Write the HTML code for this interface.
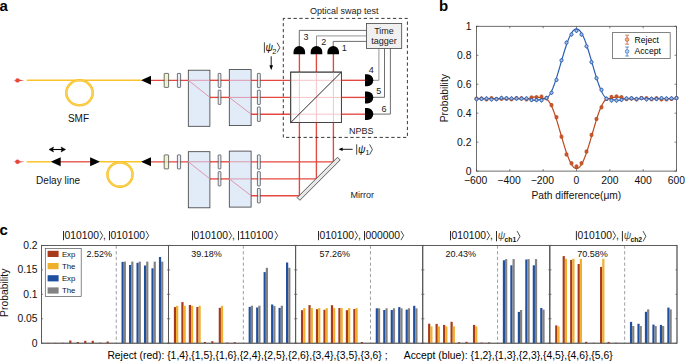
<!DOCTYPE html>
<html><head><meta charset="utf-8"><style>
html,body{margin:0;padding:0;background:#fff;}
body{width:685px;height:361px;overflow:hidden;}
svg{display:block;font-family:"Liberation Sans", sans-serif;}
</style></head><body>
<svg width="685" height="361" viewBox="0 0 685 361">
<text x="-0.60" y="10.70" font-size="15" text-anchor="start" font-weight="bold" fill="#000" >a</text>
<line x1="151.00" y1="80.30" x2="188.30" y2="80.30" stroke="#e5483f" stroke-width="1.35"/>
<line x1="209.90" y1="80.30" x2="229.30" y2="80.30" stroke="#e5483f" stroke-width="1.35"/>
<line x1="251.10" y1="80.30" x2="290.50" y2="80.30" stroke="#e5483f" stroke-width="1.35"/>
<line x1="209.90" y1="97.40" x2="229.30" y2="97.40" stroke="#e5483f" stroke-width="1.35"/>
<line x1="251.10" y1="97.40" x2="290.50" y2="97.40" stroke="#e5483f" stroke-width="1.35"/>
<line x1="251.10" y1="114.20" x2="290.50" y2="114.20" stroke="#e5483f" stroke-width="1.35"/>
<rect x="164.20" y="73.40" width="4.40" height="14.00" rx="0.5" fill="#e8f2c4" fill-opacity="0.78" stroke="#3a3a3a" stroke-width="0.7"/>
<rect x="177.40" y="73.40" width="3.20" height="14.00" rx="0.5" fill="#e2ecf8" fill-opacity="0.78" stroke="#3a3a3a" stroke-width="0.7"/>
<rect x="218.20" y="73.40" width="2.70" height="14.00" rx="0.5" fill="#e2ecf8" fill-opacity="0.78" stroke="#3a3a3a" stroke-width="0.7"/>
<rect x="218.20" y="90.20" width="2.70" height="14.20" rx="0.5" fill="#e2ecf8" fill-opacity="0.78" stroke="#3a3a3a" stroke-width="0.7"/>
<rect x="257.40" y="73.40" width="2.90" height="14.20" rx="0.5" fill="#e2ecf8" fill-opacity="0.78" stroke="#3a3a3a" stroke-width="0.7"/>
<rect x="257.40" y="90.20" width="2.90" height="14.20" rx="0.5" fill="#e2ecf8" fill-opacity="0.78" stroke="#3a3a3a" stroke-width="0.7"/>
<rect x="257.40" y="107.00" width="2.90" height="14.40" rx="0.5" fill="#e2ecf8" fill-opacity="0.78" stroke="#3a3a3a" stroke-width="0.7"/>
<rect x="188.3" y="70.20" width="21.6" height="56.1" fill="#e2ecf8" stroke="#3a3a3a" stroke-width="0.8"/>
<rect x="229.3" y="69.60" width="21.8" height="56.0" fill="#e2ecf8" stroke="#3a3a3a" stroke-width="0.8"/>
<line x1="188.30" y1="80.30" x2="209.90" y2="80.30" stroke="#dc98ae" stroke-width="1.0"/>
<line x1="229.30" y1="80.30" x2="251.10" y2="80.30" stroke="#dc98ae" stroke-width="1.0"/>
<line x1="229.30" y1="97.40" x2="251.10" y2="97.40" stroke="#dc98ae" stroke-width="1.0"/>
<line x1="188.3" y1="80.30" x2="209.9" y2="97.40" stroke="#dc98ae" stroke-width="1.0"/>
<line x1="229.3" y1="97.40" x2="251.1" y2="114.20" stroke="#dc98ae" stroke-width="1.0"/>
<line x1="151.00" y1="161.80" x2="188.30" y2="161.80" stroke="#e5483f" stroke-width="1.35"/>
<line x1="209.90" y1="161.80" x2="229.30" y2="161.80" stroke="#e5483f" stroke-width="1.35"/>
<line x1="251.10" y1="161.80" x2="333.40" y2="161.80" stroke="#e5483f" stroke-width="1.35"/>
<line x1="209.90" y1="178.90" x2="229.30" y2="178.90" stroke="#e5483f" stroke-width="1.35"/>
<line x1="251.10" y1="178.90" x2="316.40" y2="178.90" stroke="#e5483f" stroke-width="1.35"/>
<line x1="251.10" y1="195.70" x2="299.40" y2="195.70" stroke="#e5483f" stroke-width="1.35"/>
<rect x="164.20" y="154.90" width="4.40" height="14.00" rx="0.5" fill="#e8f2c4" fill-opacity="0.78" stroke="#3a3a3a" stroke-width="0.7"/>
<rect x="177.40" y="154.90" width="3.20" height="14.00" rx="0.5" fill="#e2ecf8" fill-opacity="0.78" stroke="#3a3a3a" stroke-width="0.7"/>
<rect x="218.20" y="154.90" width="2.70" height="14.00" rx="0.5" fill="#e2ecf8" fill-opacity="0.78" stroke="#3a3a3a" stroke-width="0.7"/>
<rect x="218.20" y="171.70" width="2.70" height="14.20" rx="0.5" fill="#e2ecf8" fill-opacity="0.78" stroke="#3a3a3a" stroke-width="0.7"/>
<rect x="257.40" y="154.90" width="2.90" height="14.20" rx="0.5" fill="#e2ecf8" fill-opacity="0.78" stroke="#3a3a3a" stroke-width="0.7"/>
<rect x="257.40" y="171.70" width="2.90" height="14.20" rx="0.5" fill="#e2ecf8" fill-opacity="0.78" stroke="#3a3a3a" stroke-width="0.7"/>
<rect x="257.40" y="188.50" width="2.90" height="14.40" rx="0.5" fill="#e2ecf8" fill-opacity="0.78" stroke="#3a3a3a" stroke-width="0.7"/>
<rect x="188.3" y="151.70" width="21.6" height="56.1" fill="#e2ecf8" stroke="#3a3a3a" stroke-width="0.8"/>
<rect x="229.3" y="151.10" width="21.8" height="56.0" fill="#e2ecf8" stroke="#3a3a3a" stroke-width="0.8"/>
<line x1="188.30" y1="161.80" x2="209.90" y2="161.80" stroke="#dc98ae" stroke-width="1.0"/>
<line x1="229.30" y1="161.80" x2="251.10" y2="161.80" stroke="#dc98ae" stroke-width="1.0"/>
<line x1="229.30" y1="178.90" x2="251.10" y2="178.90" stroke="#dc98ae" stroke-width="1.0"/>
<line x1="188.3" y1="161.80" x2="209.9" y2="178.90" stroke="#dc98ae" stroke-width="1.0"/>
<line x1="229.3" y1="178.90" x2="251.1" y2="195.70" stroke="#dc98ae" stroke-width="1.0"/>
<path d="M13.20,80.40 L18.80,79.50 L24.40,80.40 L18.80,81.30 Z" fill="#e5483f"/>
<circle cx="17.50" cy="80.40" r="2.2" fill="#e5483f"/>
<line x1="26.70" y1="80.30" x2="141.00" y2="80.30" stroke="#f9c42c" stroke-width="1.5"/>
<ellipse cx="79.5" cy="92.8" rx="13.2" ry="12.5" fill="none" stroke="#f9c42c" stroke-width="2.6"/>
<ellipse cx="79.5" cy="92.8" rx="13.2" ry="12.5" fill="none" stroke="#fce39a" stroke-width="0.45"/>
<path d="M141.00,80.30 L151.00,75.80 L151.00,84.80 Z" fill="#000"/>
<text x="67.90" y="121.90" font-size="10" text-anchor="start" font-weight="normal" fill="#111" >SMF</text>
<path d="M13.20,161.80 L18.80,160.90 L24.40,161.80 L18.80,162.70 Z" fill="#e5483f"/>
<circle cx="17.50" cy="161.80" r="2.2" fill="#e5483f"/>
<line x1="26.60" y1="161.80" x2="50.70" y2="161.80" stroke="#f9c42c" stroke-width="1.5"/>
<line x1="60.00" y1="161.80" x2="91.00" y2="161.80" stroke="#e5483f" stroke-width="1.3"/>
<path d="M50.70,161.80 L60.70,157.30 L60.70,166.30 Z" fill="#000"/>
<path d="M100.10,161.80 L90.10,157.30 L90.10,166.30 Z" fill="#000"/>
<line x1="100.10" y1="161.80" x2="141.00" y2="161.80" stroke="#f9c42c" stroke-width="1.5"/>
<ellipse cx="120" cy="174.5" rx="12.55" ry="12.15" fill="none" stroke="#f9c42c" stroke-width="2.6"/>
<ellipse cx="120" cy="174.5" rx="12.55" ry="12.15" fill="none" stroke="#fce39a" stroke-width="0.45"/>
<path d="M141.00,161.80 L151.00,157.30 L151.00,166.30 Z" fill="#000"/>
<line x1="51" y1="149.5" x2="63.5" y2="149.5" stroke="#000" stroke-width="1.1"/>
<path d="M49,149.5 L53.6,147.0 L52.6,149.5 L53.6,152.0 Z" fill="#000" stroke="#000" stroke-width="0.5" stroke-linejoin="round"/>
<path d="M65.6,149.5 L61.0,147.0 L62.0,149.5 L61.0,152.0 Z" fill="#000" stroke="#000" stroke-width="0.5" stroke-linejoin="round"/>
<text x="36.10" y="184.00" font-size="10" text-anchor="start" font-weight="normal" fill="#111" >Delay line</text>
<line x1="299.40" y1="122.40" x2="299.40" y2="195.70" stroke="#e5483f" stroke-width="1.35"/>
<line x1="316.40" y1="122.40" x2="316.40" y2="178.90" stroke="#e5483f" stroke-width="1.35"/>
<line x1="333.40" y1="122.40" x2="333.40" y2="161.80" stroke="#e5483f" stroke-width="1.35"/>
<g transform="translate(318.7,178.8) rotate(-45)"><rect x="-28.5" y="-1.9" width="57" height="3.8" fill="#e8e8e8" stroke="#444" stroke-width="0.8"/></g>
<text x="350.60" y="197.70" font-size="9" text-anchor="start" font-weight="normal" fill="#222" >Mirror</text>
<line x1="341.60" y1="80.30" x2="365.50" y2="80.30" stroke="#e5483f" stroke-width="1.35"/>
<line x1="341.60" y1="97.40" x2="365.50" y2="97.40" stroke="#e5483f" stroke-width="1.35"/>
<line x1="341.60" y1="114.20" x2="365.50" y2="114.20" stroke="#e5483f" stroke-width="1.35"/>
<line x1="299.40" y1="54.00" x2="299.40" y2="72.10" stroke="#e5483f" stroke-width="1.35"/>
<line x1="316.40" y1="54.00" x2="316.40" y2="72.10" stroke="#e5483f" stroke-width="1.35"/>
<line x1="333.40" y1="54.00" x2="333.40" y2="72.10" stroke="#e5483f" stroke-width="1.35"/>
<rect x="290.5" y="72.1" width="51.1" height="50.3" fill="#fff" stroke="#333" stroke-width="0.8"/>
<line x1="290.50" y1="80.30" x2="341.60" y2="80.30" stroke="#f6c4c8" stroke-width="1.0"/>
<line x1="290.50" y1="97.40" x2="341.60" y2="97.40" stroke="#f6c4c8" stroke-width="1.0"/>
<line x1="290.50" y1="114.20" x2="341.60" y2="114.20" stroke="#f6c4c8" stroke-width="1.0"/>
<line x1="299.40" y1="72.10" x2="299.40" y2="122.40" stroke="#f6c4c8" stroke-width="1.0"/>
<line x1="316.40" y1="72.10" x2="316.40" y2="122.40" stroke="#f6c4c8" stroke-width="1.0"/>
<line x1="333.40" y1="72.10" x2="333.40" y2="122.40" stroke="#f6c4c8" stroke-width="1.0"/>
<line x1="290.8" y1="122.5" x2="341.4" y2="72.1" stroke="#2a2a2a" stroke-width="1.0"/>
<rect x="290.8" y="72.1" width="50.6" height="50.4" fill="none" stroke="#444" stroke-width="0.9"/>
<polyline points="299.3,47 299.3,30.4 366.4,30.4" fill="none" stroke="#4a4a4a" stroke-width="0.8"/>
<polyline points="316.5,47 316.5,35.9 366.4,35.9" fill="none" stroke="#8a8a8a" stroke-width="0.9"/>
<polyline points="333.2,47 333.2,41.4 366.4,41.4" fill="none" stroke="#4a4a4a" stroke-width="0.8"/>
<polyline points="372,80.3 378.9,80.3 378.9,48.5" fill="none" stroke="#8a8a8a" stroke-width="0.9"/>
<polyline points="372,97.3 384.5,97.3 384.5,48.5" fill="none" stroke="#4a4a4a" stroke-width="0.8"/>
<polyline points="372,114.1 390.4,114.1 390.4,48.5" fill="none" stroke="#4a4a4a" stroke-width="0.8"/>
<path d="M293.50,54.20 L293.50,51.80 A5.80,5.80 0 0 1 305.10,51.80 L305.10,54.20 Z" fill="#000"/>
<path d="M310.70,54.20 L310.70,51.80 A5.80,5.80 0 0 1 322.30,51.80 L322.30,54.20 Z" fill="#000"/>
<path d="M327.40,54.20 L327.40,51.80 A5.80,5.80 0 0 1 339.00,51.80 L339.00,54.20 Z" fill="#000"/>
<path d="M365.00,74.30 L367.30,74.30 A6.00,6.00 0 0 1 367.30,86.30 L365.00,86.30 Z" fill="#000"/>
<path d="M365.00,91.50 L367.30,91.50 A6.00,6.00 0 0 1 367.30,103.50 L365.00,103.50 Z" fill="#000"/>
<path d="M365.00,108.10 L367.30,108.10 A6.00,6.00 0 0 1 367.30,120.10 L365.00,120.10 Z" fill="#000"/>
<rect x="366.4" y="23.4" width="35.3" height="25.1" fill="#f0f0f0" stroke="#444" stroke-width="0.8"/>
<text x="384.05" y="33.70" font-size="9" text-anchor="middle" font-weight="normal" fill="#222" >Time</text>
<text x="384.05" y="44.20" font-size="9" text-anchor="middle" font-weight="normal" fill="#222" >tagger</text>
<text x="341.80" y="51.20" font-size="9" text-anchor="start" font-weight="normal" fill="#222" >1</text>
<text x="321.20" y="45.40" font-size="9" text-anchor="start" font-weight="normal" fill="#222" >2</text>
<text x="303.60" y="40.20" font-size="9" text-anchor="start" font-weight="normal" fill="#222" >3</text>
<text x="368.80" y="72.60" font-size="9" text-anchor="start" font-weight="normal" fill="#222" >4</text>
<text x="376.20" y="94.20" font-size="9" text-anchor="start" font-weight="normal" fill="#222" >5</text>
<text x="381.50" y="111.60" font-size="9" text-anchor="start" font-weight="normal" fill="#222" >6</text>
<text x="349.00" y="134.10" font-size="9" text-anchor="start" font-weight="normal" fill="#222" >NPBS</text>
<text x="309.90" y="13.90" font-size="9" text-anchor="start" font-weight="normal" fill="#222" >Optical swap test</text>
<rect x="283.3" y="18.4" width="124.1" height="119.0" fill="none" stroke="#222" stroke-width="0.9" stroke-dasharray="3.3,2.55" stroke-dashoffset="1.5"/>
<line x1="264.40" y1="42.30" x2="264.40" y2="52.80" stroke="#333" stroke-width="0.9"/>
<text x="265.60" y="50.60" font-size="10.3" text-anchor="start" font-weight="normal" fill="#111" font-style="italic">ψ</text>
<text x="272.30" y="53.60" font-size="7.4" text-anchor="start" font-weight="normal" fill="#111" >2</text>
<polyline points="277.20,42.70 279.80,47.60 277.20,52.50" fill="none" stroke="#222" stroke-width="0.8"/>
<line x1="271.2" y1="56.3" x2="271.2" y2="66" stroke="#000" stroke-width="0.9"/>
<path d="M271.2,70.3 L269.4,65.3 L273.0,65.3 Z" fill="#000"/>
<line x1="356.70" y1="144.30" x2="356.70" y2="154.70" stroke="#333" stroke-width="0.9"/>
<text x="358.10" y="152.80" font-size="10.3" text-anchor="start" font-weight="normal" fill="#111" font-style="italic">ψ</text>
<text x="365.50" y="155.40" font-size="7.0" text-anchor="start" font-weight="normal" fill="#111" >1</text>
<polyline points="369.60,144.40 372.40,149.50 369.60,154.60" fill="none" stroke="#222" stroke-width="0.8"/>
<line x1="342" y1="149.3" x2="352.6" y2="149.3" stroke="#000" stroke-width="0.9"/>
<path d="M338.5,149.3 L342.6,147.5 L342.6,151.1 Z" fill="#000"/>
<text x="438.90" y="10.60" font-size="15" text-anchor="start" font-weight="bold" fill="#000" >b</text>
<rect x="476.5" y="26.3" width="200.0" height="144.79999999999998" fill="#fff" stroke="#4a4a4a" stroke-width="0.8"/>
<line x1="476.50" y1="171.1" x2="476.50" y2="169.1" stroke="#4a4a4a" stroke-width="0.7"/>
<line x1="476.50" y1="26.3" x2="476.50" y2="28.3" stroke="#4a4a4a" stroke-width="0.7"/>
<text x="475.70" y="183.80" font-size="10.35" text-anchor="middle" font-weight="normal" fill="#111" >−600</text>
<line x1="509.83" y1="171.1" x2="509.83" y2="169.1" stroke="#4a4a4a" stroke-width="0.7"/>
<line x1="509.83" y1="26.3" x2="509.83" y2="28.3" stroke="#4a4a4a" stroke-width="0.7"/>
<text x="509.03" y="183.80" font-size="10.35" text-anchor="middle" font-weight="normal" fill="#111" >−400</text>
<line x1="543.17" y1="171.1" x2="543.17" y2="169.1" stroke="#4a4a4a" stroke-width="0.7"/>
<line x1="543.17" y1="26.3" x2="543.17" y2="28.3" stroke="#4a4a4a" stroke-width="0.7"/>
<text x="542.37" y="183.80" font-size="10.35" text-anchor="middle" font-weight="normal" fill="#111" >−200</text>
<line x1="576.50" y1="171.1" x2="576.50" y2="169.1" stroke="#4a4a4a" stroke-width="0.7"/>
<line x1="576.50" y1="26.3" x2="576.50" y2="28.3" stroke="#4a4a4a" stroke-width="0.7"/>
<text x="576.50" y="183.80" font-size="10.35" text-anchor="middle" font-weight="normal" fill="#111" >0</text>
<line x1="609.83" y1="171.1" x2="609.83" y2="169.1" stroke="#4a4a4a" stroke-width="0.7"/>
<line x1="609.83" y1="26.3" x2="609.83" y2="28.3" stroke="#4a4a4a" stroke-width="0.7"/>
<text x="609.83" y="183.80" font-size="10.35" text-anchor="middle" font-weight="normal" fill="#111" >200</text>
<line x1="643.17" y1="171.1" x2="643.17" y2="169.1" stroke="#4a4a4a" stroke-width="0.7"/>
<line x1="643.17" y1="26.3" x2="643.17" y2="28.3" stroke="#4a4a4a" stroke-width="0.7"/>
<text x="643.17" y="183.80" font-size="10.35" text-anchor="middle" font-weight="normal" fill="#111" >400</text>
<line x1="676.50" y1="171.1" x2="676.50" y2="169.1" stroke="#4a4a4a" stroke-width="0.7"/>
<line x1="676.50" y1="26.3" x2="676.50" y2="28.3" stroke="#4a4a4a" stroke-width="0.7"/>
<text x="676.50" y="183.80" font-size="10.35" text-anchor="middle" font-weight="normal" fill="#111" >600</text>
<line x1="476.5" y1="171.10" x2="478.5" y2="171.10" stroke="#4a4a4a" stroke-width="0.7"/>
<line x1="676.5" y1="171.10" x2="674.5" y2="171.10" stroke="#4a4a4a" stroke-width="0.7"/>
<text x="471.40" y="174.80" font-size="10.35" text-anchor="end" font-weight="normal" fill="#111" >0</text>
<line x1="476.5" y1="142.14" x2="478.5" y2="142.14" stroke="#4a4a4a" stroke-width="0.7"/>
<line x1="676.5" y1="142.14" x2="674.5" y2="142.14" stroke="#4a4a4a" stroke-width="0.7"/>
<text x="471.40" y="145.84" font-size="10.35" text-anchor="end" font-weight="normal" fill="#111" >0.2</text>
<line x1="476.5" y1="113.18" x2="478.5" y2="113.18" stroke="#4a4a4a" stroke-width="0.7"/>
<line x1="676.5" y1="113.18" x2="674.5" y2="113.18" stroke="#4a4a4a" stroke-width="0.7"/>
<text x="471.40" y="116.88" font-size="10.35" text-anchor="end" font-weight="normal" fill="#111" >0.4</text>
<line x1="476.5" y1="84.22" x2="478.5" y2="84.22" stroke="#4a4a4a" stroke-width="0.7"/>
<line x1="676.5" y1="84.22" x2="674.5" y2="84.22" stroke="#4a4a4a" stroke-width="0.7"/>
<text x="471.40" y="87.92" font-size="10.35" text-anchor="end" font-weight="normal" fill="#111" >0.6</text>
<line x1="476.5" y1="55.26" x2="478.5" y2="55.26" stroke="#4a4a4a" stroke-width="0.7"/>
<line x1="676.5" y1="55.26" x2="674.5" y2="55.26" stroke="#4a4a4a" stroke-width="0.7"/>
<text x="471.40" y="58.96" font-size="10.35" text-anchor="end" font-weight="normal" fill="#111" >0.8</text>
<line x1="476.5" y1="26.30" x2="478.5" y2="26.30" stroke="#4a4a4a" stroke-width="0.7"/>
<line x1="676.5" y1="26.30" x2="674.5" y2="26.30" stroke="#4a4a4a" stroke-width="0.7"/>
<text x="471.40" y="30.00" font-size="10.35" text-anchor="end" font-weight="normal" fill="#111" >1</text>
<text x="576.30" y="198.60" font-size="10.35" text-anchor="middle" font-weight="normal" fill="#111" textLength="89.8" lengthAdjust="spacingAndGlyphs">Path difference(μm)</text>
<text transform="translate(447.8,98.2) rotate(-90)" x="0" y="0" font-size="10.35" text-anchor="middle" fill="#111">Probability</text>
<polyline points="476.50,98.70 477.00,98.70 477.50,98.70 478.00,98.70 478.50,98.70 479.00,98.70 479.50,98.70 480.00,98.70 480.50,98.70 481.00,98.70 481.50,98.70 482.00,98.70 482.50,98.70 483.00,98.70 483.50,98.70 484.00,98.70 484.50,98.70 485.00,98.70 485.50,98.70 486.00,98.70 486.50,98.70 487.00,98.70 487.50,98.70 488.00,98.70 488.50,98.70 489.00,98.70 489.50,98.70 490.00,98.70 490.50,98.70 491.00,98.70 491.50,98.70 492.00,98.70 492.50,98.70 493.00,98.70 493.50,98.70 494.00,98.70 494.50,98.70 495.00,98.70 495.50,98.70 496.00,98.70 496.50,98.70 497.00,98.70 497.50,98.70 498.00,98.70 498.50,98.70 499.00,98.70 499.50,98.70 500.00,98.70 500.50,98.70 501.00,98.70 501.50,98.70 502.00,98.70 502.50,98.70 503.00,98.70 503.50,98.70 504.00,98.70 504.50,98.70 505.00,98.70 505.50,98.70 506.00,98.70 506.50,98.70 507.00,98.70 507.50,98.70 508.00,98.70 508.50,98.70 509.00,98.70 509.50,98.70 510.00,98.70 510.50,98.70 511.00,98.70 511.50,98.70 512.00,98.70 512.50,98.70 513.00,98.70 513.50,98.70 514.00,98.70 514.50,98.70 515.00,98.70 515.50,98.70 516.00,98.70 516.50,98.70 517.00,98.70 517.50,98.70 518.00,98.70 518.50,98.70 519.00,98.70 519.50,98.70 520.00,98.70 520.50,98.70 521.00,98.70 521.50,98.70 522.00,98.70 522.50,98.70 523.00,98.70 523.50,98.70 524.00,98.70 524.50,98.70 525.00,98.70 525.50,98.70 526.00,98.70 526.50,98.70 527.00,98.69 527.50,98.65 528.00,98.59 528.50,98.50 529.00,98.40 529.50,98.28 530.00,98.15 530.50,98.00 531.00,97.86 531.50,97.71 532.00,97.56 532.50,97.43 533.00,97.30 533.50,97.19 534.00,97.10 534.50,97.03 535.00,96.98 535.50,96.96 536.00,96.97 536.50,97.00 537.00,97.05 537.50,97.13 538.00,97.23 538.50,97.34 539.00,97.47 539.50,97.61 540.00,97.76 540.50,97.91 541.00,98.05 541.50,98.19 542.00,98.32 542.50,98.44 543.00,98.53 543.50,98.61 544.00,98.66 544.50,98.69 545.00,98.70 545.50,98.78 546.00,98.93 546.50,99.18 547.00,99.50 547.50,99.91 548.00,100.41 548.50,100.98 549.00,101.64 549.50,102.37 550.00,103.18 550.50,104.07 551.00,105.03 551.50,106.06 552.00,107.15 552.50,108.32 553.00,109.54 553.50,110.82 554.00,112.16 554.50,113.55 555.00,115.00 555.50,116.48 556.00,118.01 556.50,119.58 557.00,121.18 557.50,122.81 558.00,124.47 558.50,126.15 559.00,127.85 559.50,129.57 560.00,131.29 560.50,133.02 561.00,134.75 561.50,136.48 562.00,138.20 562.50,139.91 563.00,141.60 563.50,143.28 564.00,144.93 564.50,146.55 565.00,148.14 565.50,149.70 566.00,151.21 566.50,152.68 567.00,154.11 567.50,155.48 568.00,156.80 568.50,158.07 569.00,159.27 569.50,160.41 570.00,161.49 570.50,162.49 571.00,163.43 571.50,164.29 572.00,165.07 572.50,165.78 573.00,166.41 573.50,166.96 574.00,167.43 574.50,167.81 575.00,168.11 575.50,168.32 576.00,168.45 576.50,168.49 577.00,168.45 577.50,168.32 578.00,168.11 578.50,167.81 579.00,167.43 579.50,166.96 580.00,166.41 580.50,165.78 581.00,165.07 581.50,164.29 582.00,163.43 582.50,162.49 583.00,161.49 583.50,160.41 584.00,159.27 584.50,158.07 585.00,156.80 585.50,155.48 586.00,154.11 586.50,152.68 587.00,151.21 587.50,149.70 588.00,148.14 588.50,146.55 589.00,144.93 589.50,143.28 590.00,141.60 590.50,139.91 591.00,138.20 591.50,136.48 592.00,134.75 592.50,133.02 593.00,131.29 593.50,129.57 594.00,127.85 594.50,126.15 595.00,124.47 595.50,122.81 596.00,121.18 596.50,119.58 597.00,118.01 597.50,116.48 598.00,115.00 598.50,113.55 599.00,112.16 599.50,110.82 600.00,109.54 600.50,108.32 601.00,107.15 601.50,106.06 602.00,105.03 602.50,104.07 603.00,103.18 603.50,102.37 604.00,101.64 604.50,100.98 605.00,100.41 605.50,99.91 606.00,99.50 606.50,99.18 607.00,98.93 607.50,98.78 608.00,98.70 608.50,98.69 609.00,98.66 609.50,98.61 610.00,98.53 610.50,98.44 611.00,98.32 611.50,98.19 612.00,98.05 612.50,97.91 613.00,97.76 613.50,97.61 614.00,97.47 614.50,97.34 615.00,97.23 615.50,97.13 616.00,97.05 616.50,97.00 617.00,96.97 617.50,96.96 618.00,96.98 618.50,97.03 619.00,97.10 619.50,97.19 620.00,97.30 620.50,97.43 621.00,97.56 621.50,97.71 622.00,97.86 622.50,98.00 623.00,98.15 623.50,98.28 624.00,98.40 624.50,98.50 625.00,98.59 625.50,98.65 626.00,98.69 626.50,98.70 627.00,98.70 627.50,98.70 628.00,98.70 628.50,98.70 629.00,98.70 629.50,98.70 630.00,98.70 630.50,98.70 631.00,98.70 631.50,98.70 632.00,98.70 632.50,98.70 633.00,98.70 633.50,98.70 634.00,98.70 634.50,98.70 635.00,98.70 635.50,98.70 636.00,98.70 636.50,98.70 637.00,98.70 637.50,98.70 638.00,98.70 638.50,98.70 639.00,98.70 639.50,98.70 640.00,98.70 640.50,98.70 641.00,98.70 641.50,98.70 642.00,98.70 642.50,98.70 643.00,98.70 643.50,98.70 644.00,98.70 644.50,98.70 645.00,98.70 645.50,98.70 646.00,98.70 646.50,98.70 647.00,98.70 647.50,98.70 648.00,98.70 648.50,98.70 649.00,98.70 649.50,98.70 650.00,98.70 650.50,98.70 651.00,98.70 651.50,98.70 652.00,98.70 652.50,98.70 653.00,98.70 653.50,98.70 654.00,98.70 654.50,98.70 655.00,98.70 655.50,98.70 656.00,98.70 656.50,98.70 657.00,98.70 657.50,98.70 658.00,98.70 658.50,98.70 659.00,98.70 659.50,98.70 660.00,98.70 660.50,98.70 661.00,98.70 661.50,98.70 662.00,98.70 662.50,98.70 663.00,98.70 663.50,98.70 664.00,98.70 664.50,98.70 665.00,98.70 665.50,98.70 666.00,98.70 666.50,98.70 667.00,98.70 667.50,98.70 668.00,98.70 668.50,98.70 669.00,98.70 669.50,98.70 670.00,98.70 670.50,98.70 671.00,98.70 671.50,98.70 672.00,98.70 672.50,98.70 673.00,98.70 673.50,98.70 674.00,98.70 674.50,98.70 675.00,98.70 675.50,98.70 676.00,98.70 676.50,98.70" fill="none" stroke="#bb4a1f" stroke-width="1.2"/>
<polyline points="476.50,98.70 477.00,98.70 477.50,98.70 478.00,98.70 478.50,98.70 479.00,98.70 479.50,98.70 480.00,98.70 480.50,98.70 481.00,98.70 481.50,98.70 482.00,98.70 482.50,98.70 483.00,98.70 483.50,98.70 484.00,98.70 484.50,98.70 485.00,98.70 485.50,98.70 486.00,98.70 486.50,98.70 487.00,98.70 487.50,98.70 488.00,98.70 488.50,98.70 489.00,98.70 489.50,98.70 490.00,98.70 490.50,98.70 491.00,98.70 491.50,98.70 492.00,98.70 492.50,98.70 493.00,98.70 493.50,98.70 494.00,98.70 494.50,98.70 495.00,98.70 495.50,98.70 496.00,98.70 496.50,98.70 497.00,98.70 497.50,98.70 498.00,98.70 498.50,98.70 499.00,98.70 499.50,98.70 500.00,98.70 500.50,98.70 501.00,98.70 501.50,98.70 502.00,98.70 502.50,98.70 503.00,98.70 503.50,98.70 504.00,98.70 504.50,98.70 505.00,98.70 505.50,98.70 506.00,98.70 506.50,98.70 507.00,98.70 507.50,98.70 508.00,98.70 508.50,98.70 509.00,98.70 509.50,98.70 510.00,98.70 510.50,98.70 511.00,98.70 511.50,98.70 512.00,98.70 512.50,98.70 513.00,98.70 513.50,98.70 514.00,98.70 514.50,98.70 515.00,98.70 515.50,98.70 516.00,98.70 516.50,98.70 517.00,98.70 517.50,98.70 518.00,98.70 518.50,98.70 519.00,98.70 519.50,98.70 520.00,98.70 520.50,98.70 521.00,98.70 521.50,98.70 522.00,98.70 522.50,98.70 523.00,98.70 523.50,98.70 524.00,98.70 524.50,98.70 525.00,98.70 525.50,98.70 526.00,98.70 526.50,98.70 527.00,98.71 527.50,98.75 528.00,98.81 528.50,98.90 529.00,99.00 529.50,99.12 530.00,99.25 530.50,99.40 531.00,99.54 531.50,99.69 532.00,99.84 532.50,99.97 533.00,100.10 533.50,100.21 534.00,100.30 534.50,100.37 535.00,100.42 535.50,100.44 536.00,100.43 536.50,100.40 537.00,100.35 537.50,100.27 538.00,100.17 538.50,100.06 539.00,99.93 539.50,99.79 540.00,99.64 540.50,99.49 541.00,99.35 541.50,99.21 542.00,99.08 542.50,98.96 543.00,98.87 543.50,98.79 544.00,98.74 544.50,98.71 545.00,98.70 545.50,98.62 546.00,98.47 546.50,98.22 547.00,97.90 547.50,97.49 548.00,96.99 548.50,96.42 549.00,95.76 549.50,95.03 550.00,94.22 550.50,93.33 551.00,92.37 551.50,91.34 552.00,90.25 552.50,89.08 553.00,87.86 553.50,86.58 554.00,85.24 554.50,83.85 555.00,82.40 555.50,80.92 556.00,79.39 556.50,77.82 557.00,76.22 557.50,74.59 558.00,72.93 558.50,71.25 559.00,69.55 559.50,67.83 560.00,66.11 560.50,64.38 561.00,62.65 561.50,60.92 562.00,59.20 562.50,57.49 563.00,55.80 563.50,54.12 564.00,52.47 564.50,50.85 565.00,49.26 565.50,47.70 566.00,46.19 566.50,44.72 567.00,43.29 567.50,41.92 568.00,40.60 568.50,39.33 569.00,38.13 569.50,36.99 570.00,35.91 570.50,34.91 571.00,33.97 571.50,33.11 572.00,32.33 572.50,31.62 573.00,30.99 573.50,30.44 574.00,29.97 574.50,29.59 575.00,29.29 575.50,29.08 576.00,28.95 576.50,28.91 577.00,28.95 577.50,29.08 578.00,29.29 578.50,29.59 579.00,29.97 579.50,30.44 580.00,30.99 580.50,31.62 581.00,32.33 581.50,33.11 582.00,33.97 582.50,34.91 583.00,35.91 583.50,36.99 584.00,38.13 584.50,39.33 585.00,40.60 585.50,41.92 586.00,43.29 586.50,44.72 587.00,46.19 587.50,47.70 588.00,49.26 588.50,50.85 589.00,52.47 589.50,54.12 590.00,55.80 590.50,57.49 591.00,59.20 591.50,60.92 592.00,62.65 592.50,64.38 593.00,66.11 593.50,67.83 594.00,69.55 594.50,71.25 595.00,72.93 595.50,74.59 596.00,76.22 596.50,77.82 597.00,79.39 597.50,80.92 598.00,82.40 598.50,83.85 599.00,85.24 599.50,86.58 600.00,87.86 600.50,89.08 601.00,90.25 601.50,91.34 602.00,92.37 602.50,93.33 603.00,94.22 603.50,95.03 604.00,95.76 604.50,96.42 605.00,96.99 605.50,97.49 606.00,97.90 606.50,98.22 607.00,98.47 607.50,98.62 608.00,98.70 608.50,98.71 609.00,98.74 609.50,98.79 610.00,98.87 610.50,98.96 611.00,99.08 611.50,99.21 612.00,99.35 612.50,99.49 613.00,99.64 613.50,99.79 614.00,99.93 614.50,100.06 615.00,100.17 615.50,100.27 616.00,100.35 616.50,100.40 617.00,100.43 617.50,100.44 618.00,100.42 618.50,100.37 619.00,100.30 619.50,100.21 620.00,100.10 620.50,99.97 621.00,99.84 621.50,99.69 622.00,99.54 622.50,99.40 623.00,99.25 623.50,99.12 624.00,99.00 624.50,98.90 625.00,98.81 625.50,98.75 626.00,98.71 626.50,98.70 627.00,98.70 627.50,98.70 628.00,98.70 628.50,98.70 629.00,98.70 629.50,98.70 630.00,98.70 630.50,98.70 631.00,98.70 631.50,98.70 632.00,98.70 632.50,98.70 633.00,98.70 633.50,98.70 634.00,98.70 634.50,98.70 635.00,98.70 635.50,98.70 636.00,98.70 636.50,98.70 637.00,98.70 637.50,98.70 638.00,98.70 638.50,98.70 639.00,98.70 639.50,98.70 640.00,98.70 640.50,98.70 641.00,98.70 641.50,98.70 642.00,98.70 642.50,98.70 643.00,98.70 643.50,98.70 644.00,98.70 644.50,98.70 645.00,98.70 645.50,98.70 646.00,98.70 646.50,98.70 647.00,98.70 647.50,98.70 648.00,98.70 648.50,98.70 649.00,98.70 649.50,98.70 650.00,98.70 650.50,98.70 651.00,98.70 651.50,98.70 652.00,98.70 652.50,98.70 653.00,98.70 653.50,98.70 654.00,98.70 654.50,98.70 655.00,98.70 655.50,98.70 656.00,98.70 656.50,98.70 657.00,98.70 657.50,98.70 658.00,98.70 658.50,98.70 659.00,98.70 659.50,98.70 660.00,98.70 660.50,98.70 661.00,98.70 661.50,98.70 662.00,98.70 662.50,98.70 663.00,98.70 663.50,98.70 664.00,98.70 664.50,98.70 665.00,98.70 665.50,98.70 666.00,98.70 666.50,98.70 667.00,98.70 667.50,98.70 668.00,98.70 668.50,98.70 669.00,98.70 669.50,98.70 670.00,98.70 670.50,98.70 671.00,98.70 671.50,98.70 672.00,98.70 672.50,98.70 673.00,98.70 673.50,98.70 674.00,98.70 674.50,98.70 675.00,98.70 675.50,98.70 676.00,98.70 676.50,98.70" fill="none" stroke="#2b5fb2" stroke-width="1.2"/>
<line x1="476.50" y1="96.64" x2="476.50" y2="100.64" stroke="#bb4a1f" stroke-width="0.8"/>
<rect x="475.00" y="97.14" width="3.0" height="3.0" rx="0.6" fill="#c65a30" stroke="#bb4a1f" stroke-width="0.7"/>
<line x1="476.50" y1="96.88" x2="476.50" y2="101.28" stroke="#2b5fb2" stroke-width="0.8"/>
<circle cx="476.50" cy="99.08" r="1.6" fill="#a9c0e4" stroke="#2b5fb2" stroke-width="0.95"/>
<line x1="481.50" y1="96.55" x2="481.50" y2="100.55" stroke="#bb4a1f" stroke-width="0.8"/>
<rect x="480.00" y="97.05" width="3.0" height="3.0" rx="0.6" fill="#c65a30" stroke="#bb4a1f" stroke-width="0.7"/>
<line x1="481.50" y1="96.69" x2="481.50" y2="101.09" stroke="#2b5fb2" stroke-width="0.8"/>
<circle cx="481.50" cy="98.89" r="1.6" fill="#a9c0e4" stroke="#2b5fb2" stroke-width="0.95"/>
<line x1="486.50" y1="97.33" x2="486.50" y2="101.33" stroke="#bb4a1f" stroke-width="0.8"/>
<rect x="485.00" y="97.83" width="3.0" height="3.0" rx="0.6" fill="#c65a30" stroke="#bb4a1f" stroke-width="0.7"/>
<line x1="486.50" y1="96.32" x2="486.50" y2="100.72" stroke="#2b5fb2" stroke-width="0.8"/>
<circle cx="486.50" cy="98.52" r="1.6" fill="#a9c0e4" stroke="#2b5fb2" stroke-width="0.95"/>
<line x1="491.50" y1="96.21" x2="491.50" y2="100.21" stroke="#bb4a1f" stroke-width="0.8"/>
<rect x="490.00" y="96.71" width="3.0" height="3.0" rx="0.6" fill="#c65a30" stroke="#bb4a1f" stroke-width="0.7"/>
<line x1="491.50" y1="97.20" x2="491.50" y2="101.60" stroke="#2b5fb2" stroke-width="0.8"/>
<circle cx="491.50" cy="99.40" r="1.6" fill="#a9c0e4" stroke="#2b5fb2" stroke-width="0.95"/>
<line x1="496.50" y1="97.08" x2="496.50" y2="101.08" stroke="#bb4a1f" stroke-width="0.8"/>
<rect x="495.00" y="97.58" width="3.0" height="3.0" rx="0.6" fill="#c65a30" stroke="#bb4a1f" stroke-width="0.7"/>
<line x1="496.50" y1="96.85" x2="496.50" y2="101.25" stroke="#2b5fb2" stroke-width="0.8"/>
<circle cx="496.50" cy="99.05" r="1.6" fill="#a9c0e4" stroke="#2b5fb2" stroke-width="0.95"/>
<line x1="501.50" y1="96.74" x2="501.50" y2="100.74" stroke="#bb4a1f" stroke-width="0.8"/>
<rect x="500.00" y="97.24" width="3.0" height="3.0" rx="0.6" fill="#c65a30" stroke="#bb4a1f" stroke-width="0.7"/>
<line x1="501.50" y1="95.78" x2="501.50" y2="100.18" stroke="#2b5fb2" stroke-width="0.8"/>
<circle cx="501.50" cy="97.98" r="1.6" fill="#a9c0e4" stroke="#2b5fb2" stroke-width="0.95"/>
<line x1="506.50" y1="96.73" x2="506.50" y2="100.73" stroke="#bb4a1f" stroke-width="0.8"/>
<rect x="505.00" y="97.23" width="3.0" height="3.0" rx="0.6" fill="#c65a30" stroke="#bb4a1f" stroke-width="0.7"/>
<line x1="506.50" y1="96.01" x2="506.50" y2="100.41" stroke="#2b5fb2" stroke-width="0.8"/>
<circle cx="506.50" cy="98.21" r="1.6" fill="#a9c0e4" stroke="#2b5fb2" stroke-width="0.95"/>
<line x1="511.50" y1="97.21" x2="511.50" y2="101.21" stroke="#bb4a1f" stroke-width="0.8"/>
<rect x="510.00" y="97.71" width="3.0" height="3.0" rx="0.6" fill="#c65a30" stroke="#bb4a1f" stroke-width="0.7"/>
<line x1="511.50" y1="96.30" x2="511.50" y2="100.70" stroke="#2b5fb2" stroke-width="0.8"/>
<circle cx="511.50" cy="98.50" r="1.6" fill="#a9c0e4" stroke="#2b5fb2" stroke-width="0.95"/>
<line x1="516.50" y1="96.17" x2="516.50" y2="100.17" stroke="#bb4a1f" stroke-width="0.8"/>
<rect x="515.00" y="96.67" width="3.0" height="3.0" rx="0.6" fill="#c65a30" stroke="#bb4a1f" stroke-width="0.7"/>
<line x1="516.50" y1="96.30" x2="516.50" y2="100.70" stroke="#2b5fb2" stroke-width="0.8"/>
<circle cx="516.50" cy="98.50" r="1.6" fill="#a9c0e4" stroke="#2b5fb2" stroke-width="0.95"/>
<line x1="521.50" y1="96.35" x2="521.50" y2="100.35" stroke="#bb4a1f" stroke-width="0.8"/>
<rect x="520.00" y="96.85" width="3.0" height="3.0" rx="0.6" fill="#c65a30" stroke="#bb4a1f" stroke-width="0.7"/>
<line x1="521.50" y1="96.47" x2="521.50" y2="100.87" stroke="#2b5fb2" stroke-width="0.8"/>
<circle cx="521.50" cy="98.67" r="1.6" fill="#a9c0e4" stroke="#2b5fb2" stroke-width="0.95"/>
<line x1="526.50" y1="97.33" x2="526.50" y2="101.33" stroke="#bb4a1f" stroke-width="0.8"/>
<rect x="525.00" y="97.83" width="3.0" height="3.0" rx="0.6" fill="#c65a30" stroke="#bb4a1f" stroke-width="0.7"/>
<line x1="526.50" y1="96.25" x2="526.50" y2="100.65" stroke="#2b5fb2" stroke-width="0.8"/>
<circle cx="526.50" cy="98.45" r="1.6" fill="#a9c0e4" stroke="#2b5fb2" stroke-width="0.95"/>
<line x1="531.50" y1="95.54" x2="531.50" y2="99.54" stroke="#bb4a1f" stroke-width="0.8"/>
<rect x="530.00" y="96.04" width="3.0" height="3.0" rx="0.6" fill="#c65a30" stroke="#bb4a1f" stroke-width="0.7"/>
<line x1="531.50" y1="97.80" x2="531.50" y2="102.20" stroke="#2b5fb2" stroke-width="0.8"/>
<circle cx="531.50" cy="100.00" r="1.6" fill="#a9c0e4" stroke="#2b5fb2" stroke-width="0.95"/>
<line x1="536.50" y1="95.25" x2="536.50" y2="99.25" stroke="#bb4a1f" stroke-width="0.8"/>
<rect x="535.00" y="95.75" width="3.0" height="3.0" rx="0.6" fill="#c65a30" stroke="#bb4a1f" stroke-width="0.7"/>
<line x1="536.50" y1="97.80" x2="536.50" y2="102.20" stroke="#2b5fb2" stroke-width="0.8"/>
<circle cx="536.50" cy="100.00" r="1.6" fill="#a9c0e4" stroke="#2b5fb2" stroke-width="0.95"/>
<line x1="541.50" y1="94.67" x2="541.50" y2="98.67" stroke="#bb4a1f" stroke-width="0.8"/>
<rect x="540.00" y="95.17" width="3.0" height="3.0" rx="0.6" fill="#c65a30" stroke="#bb4a1f" stroke-width="0.7"/>
<line x1="541.50" y1="98.09" x2="541.50" y2="102.49" stroke="#2b5fb2" stroke-width="0.8"/>
<circle cx="541.50" cy="100.29" r="1.6" fill="#a9c0e4" stroke="#2b5fb2" stroke-width="0.95"/>
<line x1="546.50" y1="96.27" x2="546.50" y2="100.27" stroke="#bb4a1f" stroke-width="0.8"/>
<rect x="545.00" y="96.77" width="3.0" height="3.0" rx="0.6" fill="#c65a30" stroke="#bb4a1f" stroke-width="0.7"/>
<line x1="546.50" y1="95.78" x2="546.50" y2="100.18" stroke="#2b5fb2" stroke-width="0.8"/>
<circle cx="546.50" cy="97.98" r="1.6" fill="#a9c0e4" stroke="#2b5fb2" stroke-width="0.95"/>
<line x1="551.50" y1="103.07" x2="551.50" y2="107.07" stroke="#bb4a1f" stroke-width="0.8"/>
<rect x="550.00" y="103.57" width="3.0" height="3.0" rx="0.6" fill="#c65a30" stroke="#bb4a1f" stroke-width="0.7"/>
<line x1="551.50" y1="90.56" x2="551.50" y2="94.96" stroke="#2b5fb2" stroke-width="0.8"/>
<circle cx="551.50" cy="92.76" r="1.6" fill="#a9c0e4" stroke="#2b5fb2" stroke-width="0.95"/>
<line x1="556.50" y1="115.23" x2="556.50" y2="119.23" stroke="#bb4a1f" stroke-width="0.8"/>
<rect x="555.00" y="115.73" width="3.0" height="3.0" rx="0.6" fill="#c65a30" stroke="#bb4a1f" stroke-width="0.7"/>
<line x1="556.50" y1="77.68" x2="556.50" y2="82.08" stroke="#2b5fb2" stroke-width="0.8"/>
<circle cx="556.50" cy="79.88" r="1.6" fill="#a9c0e4" stroke="#2b5fb2" stroke-width="0.95"/>
<line x1="561.50" y1="134.64" x2="561.50" y2="138.64" stroke="#bb4a1f" stroke-width="0.8"/>
<rect x="560.00" y="135.14" width="3.0" height="3.0" rx="0.6" fill="#c65a30" stroke="#bb4a1f" stroke-width="0.7"/>
<line x1="561.50" y1="58.13" x2="561.50" y2="62.53" stroke="#2b5fb2" stroke-width="0.8"/>
<circle cx="561.50" cy="60.33" r="1.6" fill="#a9c0e4" stroke="#2b5fb2" stroke-width="0.95"/>
<line x1="566.50" y1="152.45" x2="566.50" y2="156.45" stroke="#bb4a1f" stroke-width="0.8"/>
<rect x="565.00" y="152.95" width="3.0" height="3.0" rx="0.6" fill="#c65a30" stroke="#bb4a1f" stroke-width="0.7"/>
<line x1="566.50" y1="40.46" x2="566.50" y2="44.86" stroke="#2b5fb2" stroke-width="0.8"/>
<circle cx="566.50" cy="42.66" r="1.6" fill="#a9c0e4" stroke="#2b5fb2" stroke-width="0.95"/>
<line x1="571.50" y1="161.28" x2="571.50" y2="165.28" stroke="#bb4a1f" stroke-width="0.8"/>
<rect x="570.00" y="161.78" width="3.0" height="3.0" rx="0.6" fill="#c65a30" stroke="#bb4a1f" stroke-width="0.7"/>
<line x1="571.50" y1="32.21" x2="571.50" y2="36.61" stroke="#2b5fb2" stroke-width="0.8"/>
<circle cx="571.50" cy="34.41" r="1.6" fill="#a9c0e4" stroke="#2b5fb2" stroke-width="0.95"/>
<line x1="576.50" y1="164.47" x2="576.50" y2="168.47" stroke="#bb4a1f" stroke-width="0.8"/>
<rect x="575.00" y="164.97" width="3.0" height="3.0" rx="0.6" fill="#c65a30" stroke="#bb4a1f" stroke-width="0.7"/>
<line x1="576.50" y1="28.59" x2="576.50" y2="32.99" stroke="#2b5fb2" stroke-width="0.8"/>
<circle cx="576.50" cy="30.79" r="1.6" fill="#a9c0e4" stroke="#2b5fb2" stroke-width="0.95"/>
<line x1="581.50" y1="161.28" x2="581.50" y2="165.28" stroke="#bb4a1f" stroke-width="0.8"/>
<rect x="580.00" y="161.78" width="3.0" height="3.0" rx="0.6" fill="#c65a30" stroke="#bb4a1f" stroke-width="0.7"/>
<line x1="581.50" y1="32.21" x2="581.50" y2="36.61" stroke="#2b5fb2" stroke-width="0.8"/>
<circle cx="581.50" cy="34.41" r="1.6" fill="#a9c0e4" stroke="#2b5fb2" stroke-width="0.95"/>
<line x1="586.50" y1="149.55" x2="586.50" y2="153.55" stroke="#bb4a1f" stroke-width="0.8"/>
<rect x="585.00" y="150.05" width="3.0" height="3.0" rx="0.6" fill="#c65a30" stroke="#bb4a1f" stroke-width="0.7"/>
<line x1="586.50" y1="44.08" x2="586.50" y2="48.48" stroke="#2b5fb2" stroke-width="0.8"/>
<circle cx="586.50" cy="46.28" r="1.6" fill="#a9c0e4" stroke="#2b5fb2" stroke-width="0.95"/>
<line x1="591.50" y1="132.90" x2="591.50" y2="136.90" stroke="#bb4a1f" stroke-width="0.8"/>
<rect x="590.00" y="133.40" width="3.0" height="3.0" rx="0.6" fill="#c65a30" stroke="#bb4a1f" stroke-width="0.7"/>
<line x1="591.50" y1="59.87" x2="591.50" y2="64.27" stroke="#2b5fb2" stroke-width="0.8"/>
<circle cx="591.50" cy="62.07" r="1.6" fill="#a9c0e4" stroke="#2b5fb2" stroke-width="0.95"/>
<line x1="596.50" y1="116.97" x2="596.50" y2="120.97" stroke="#bb4a1f" stroke-width="0.8"/>
<rect x="595.00" y="117.47" width="3.0" height="3.0" rx="0.6" fill="#c65a30" stroke="#bb4a1f" stroke-width="0.7"/>
<line x1="596.50" y1="75.94" x2="596.50" y2="80.34" stroke="#2b5fb2" stroke-width="0.8"/>
<circle cx="596.50" cy="78.14" r="1.6" fill="#a9c0e4" stroke="#2b5fb2" stroke-width="0.95"/>
<line x1="601.50" y1="105.24" x2="601.50" y2="109.24" stroke="#bb4a1f" stroke-width="0.8"/>
<rect x="600.00" y="105.74" width="3.0" height="3.0" rx="0.6" fill="#c65a30" stroke="#bb4a1f" stroke-width="0.7"/>
<line x1="601.50" y1="87.67" x2="601.50" y2="92.07" stroke="#2b5fb2" stroke-width="0.8"/>
<circle cx="601.50" cy="89.87" r="1.6" fill="#a9c0e4" stroke="#2b5fb2" stroke-width="0.95"/>
<line x1="606.50" y1="96.99" x2="606.50" y2="100.99" stroke="#bb4a1f" stroke-width="0.8"/>
<rect x="605.00" y="97.49" width="3.0" height="3.0" rx="0.6" fill="#c65a30" stroke="#bb4a1f" stroke-width="0.7"/>
<line x1="606.50" y1="96.50" x2="606.50" y2="100.90" stroke="#2b5fb2" stroke-width="0.8"/>
<circle cx="606.50" cy="98.70" r="1.6" fill="#a9c0e4" stroke="#2b5fb2" stroke-width="0.95"/>
<line x1="611.50" y1="94.96" x2="611.50" y2="98.96" stroke="#bb4a1f" stroke-width="0.8"/>
<rect x="610.00" y="95.46" width="3.0" height="3.0" rx="0.6" fill="#c65a30" stroke="#bb4a1f" stroke-width="0.7"/>
<line x1="611.50" y1="98.24" x2="611.50" y2="102.64" stroke="#2b5fb2" stroke-width="0.8"/>
<circle cx="611.50" cy="100.44" r="1.6" fill="#a9c0e4" stroke="#2b5fb2" stroke-width="0.95"/>
<line x1="616.50" y1="94.53" x2="616.50" y2="98.53" stroke="#bb4a1f" stroke-width="0.8"/>
<rect x="615.00" y="95.03" width="3.0" height="3.0" rx="0.6" fill="#c65a30" stroke="#bb4a1f" stroke-width="0.7"/>
<line x1="616.50" y1="98.24" x2="616.50" y2="102.64" stroke="#2b5fb2" stroke-width="0.8"/>
<circle cx="616.50" cy="100.44" r="1.6" fill="#a9c0e4" stroke="#2b5fb2" stroke-width="0.95"/>
<line x1="621.50" y1="95.25" x2="621.50" y2="99.25" stroke="#bb4a1f" stroke-width="0.8"/>
<rect x="620.00" y="95.75" width="3.0" height="3.0" rx="0.6" fill="#c65a30" stroke="#bb4a1f" stroke-width="0.7"/>
<line x1="621.50" y1="97.66" x2="621.50" y2="102.06" stroke="#2b5fb2" stroke-width="0.8"/>
<circle cx="621.50" cy="99.86" r="1.6" fill="#a9c0e4" stroke="#2b5fb2" stroke-width="0.95"/>
<line x1="626.50" y1="97.12" x2="626.50" y2="101.12" stroke="#bb4a1f" stroke-width="0.8"/>
<rect x="625.00" y="97.62" width="3.0" height="3.0" rx="0.6" fill="#c65a30" stroke="#bb4a1f" stroke-width="0.7"/>
<line x1="626.50" y1="96.19" x2="626.50" y2="100.59" stroke="#2b5fb2" stroke-width="0.8"/>
<circle cx="626.50" cy="98.39" r="1.6" fill="#a9c0e4" stroke="#2b5fb2" stroke-width="0.95"/>
<line x1="631.50" y1="96.59" x2="631.50" y2="100.59" stroke="#bb4a1f" stroke-width="0.8"/>
<rect x="630.00" y="97.09" width="3.0" height="3.0" rx="0.6" fill="#c65a30" stroke="#bb4a1f" stroke-width="0.7"/>
<line x1="631.50" y1="96.02" x2="631.50" y2="100.42" stroke="#2b5fb2" stroke-width="0.8"/>
<circle cx="631.50" cy="98.22" r="1.6" fill="#a9c0e4" stroke="#2b5fb2" stroke-width="0.95"/>
<line x1="636.50" y1="97.33" x2="636.50" y2="101.33" stroke="#bb4a1f" stroke-width="0.8"/>
<rect x="635.00" y="97.83" width="3.0" height="3.0" rx="0.6" fill="#c65a30" stroke="#bb4a1f" stroke-width="0.7"/>
<line x1="636.50" y1="96.81" x2="636.50" y2="101.21" stroke="#2b5fb2" stroke-width="0.8"/>
<circle cx="636.50" cy="99.01" r="1.6" fill="#a9c0e4" stroke="#2b5fb2" stroke-width="0.95"/>
<line x1="641.50" y1="95.99" x2="641.50" y2="99.99" stroke="#bb4a1f" stroke-width="0.8"/>
<rect x="640.00" y="96.49" width="3.0" height="3.0" rx="0.6" fill="#c65a30" stroke="#bb4a1f" stroke-width="0.7"/>
<line x1="641.50" y1="95.99" x2="641.50" y2="100.39" stroke="#2b5fb2" stroke-width="0.8"/>
<circle cx="641.50" cy="98.19" r="1.6" fill="#a9c0e4" stroke="#2b5fb2" stroke-width="0.95"/>
<line x1="646.50" y1="96.26" x2="646.50" y2="100.26" stroke="#bb4a1f" stroke-width="0.8"/>
<rect x="645.00" y="96.76" width="3.0" height="3.0" rx="0.6" fill="#c65a30" stroke="#bb4a1f" stroke-width="0.7"/>
<line x1="646.50" y1="97.10" x2="646.50" y2="101.50" stroke="#2b5fb2" stroke-width="0.8"/>
<circle cx="646.50" cy="99.30" r="1.6" fill="#a9c0e4" stroke="#2b5fb2" stroke-width="0.95"/>
<line x1="651.50" y1="97.21" x2="651.50" y2="101.21" stroke="#bb4a1f" stroke-width="0.8"/>
<rect x="650.00" y="97.71" width="3.0" height="3.0" rx="0.6" fill="#c65a30" stroke="#bb4a1f" stroke-width="0.7"/>
<line x1="651.50" y1="96.63" x2="651.50" y2="101.03" stroke="#2b5fb2" stroke-width="0.8"/>
<circle cx="651.50" cy="98.83" r="1.6" fill="#a9c0e4" stroke="#2b5fb2" stroke-width="0.95"/>
<line x1="656.50" y1="96.31" x2="656.50" y2="100.31" stroke="#bb4a1f" stroke-width="0.8"/>
<rect x="655.00" y="96.81" width="3.0" height="3.0" rx="0.6" fill="#c65a30" stroke="#bb4a1f" stroke-width="0.7"/>
<line x1="656.50" y1="96.80" x2="656.50" y2="101.20" stroke="#2b5fb2" stroke-width="0.8"/>
<circle cx="656.50" cy="99.00" r="1.6" fill="#a9c0e4" stroke="#2b5fb2" stroke-width="0.95"/>
<line x1="661.50" y1="97.36" x2="661.50" y2="101.36" stroke="#bb4a1f" stroke-width="0.8"/>
<rect x="660.00" y="97.86" width="3.0" height="3.0" rx="0.6" fill="#c65a30" stroke="#bb4a1f" stroke-width="0.7"/>
<line x1="661.50" y1="95.96" x2="661.50" y2="100.36" stroke="#2b5fb2" stroke-width="0.8"/>
<circle cx="661.50" cy="98.16" r="1.6" fill="#a9c0e4" stroke="#2b5fb2" stroke-width="0.95"/>
<line x1="666.50" y1="97.36" x2="666.50" y2="101.36" stroke="#bb4a1f" stroke-width="0.8"/>
<rect x="665.00" y="97.86" width="3.0" height="3.0" rx="0.6" fill="#c65a30" stroke="#bb4a1f" stroke-width="0.7"/>
<line x1="666.50" y1="96.33" x2="666.50" y2="100.73" stroke="#2b5fb2" stroke-width="0.8"/>
<circle cx="666.50" cy="98.53" r="1.6" fill="#a9c0e4" stroke="#2b5fb2" stroke-width="0.95"/>
<line x1="671.50" y1="96.94" x2="671.50" y2="100.94" stroke="#bb4a1f" stroke-width="0.8"/>
<rect x="670.00" y="97.44" width="3.0" height="3.0" rx="0.6" fill="#c65a30" stroke="#bb4a1f" stroke-width="0.7"/>
<line x1="671.50" y1="96.18" x2="671.50" y2="100.58" stroke="#2b5fb2" stroke-width="0.8"/>
<circle cx="671.50" cy="98.38" r="1.6" fill="#a9c0e4" stroke="#2b5fb2" stroke-width="0.95"/>
<line x1="676.50" y1="96.00" x2="676.50" y2="100.00" stroke="#bb4a1f" stroke-width="0.8"/>
<rect x="675.00" y="96.50" width="3.0" height="3.0" rx="0.6" fill="#c65a30" stroke="#bb4a1f" stroke-width="0.7"/>
<line x1="676.50" y1="95.95" x2="676.50" y2="100.35" stroke="#2b5fb2" stroke-width="0.8"/>
<circle cx="676.50" cy="98.15" r="1.6" fill="#a9c0e4" stroke="#2b5fb2" stroke-width="0.95"/>
<rect x="612.4" y="32.6" width="57.8" height="25.8" fill="#fff" stroke="#666" stroke-width="0.8"/>
<line x1="627.1" y1="35.20" x2="627.1" y2="44.20" stroke="#c9603c" stroke-width="0.8"/>
<line x1="625.2" y1="35.20" x2="629" y2="35.20" stroke="#c9603c" stroke-width="0.8"/>
<line x1="625.2" y1="44.20" x2="629" y2="44.20" stroke="#c9603c" stroke-width="0.8"/>
<circle cx="627.1" cy="39.60" r="1.8" fill="#f0b48c" stroke="#c9603c" stroke-width="0.8"/>
<text x="634.60" y="42.50" font-size="8.6" text-anchor="start" font-weight="normal" fill="#000" >Reject</text>
<line x1="627.1" y1="47.00" x2="627.1" y2="56.00" stroke="#3f78c8" stroke-width="0.8"/>
<line x1="625.2" y1="47.00" x2="629" y2="47.00" stroke="#3f78c8" stroke-width="0.8"/>
<line x1="625.2" y1="56.00" x2="629" y2="56.00" stroke="#3f78c8" stroke-width="0.8"/>
<circle cx="627.1" cy="51.40" r="1.8" fill="#c4d6f0" stroke="#3f78c8" stroke-width="0.8"/>
<text x="634.60" y="54.30" font-size="8.6" text-anchor="start" font-weight="normal" fill="#000" >Accept</text>
<text x="-0.40" y="234.50" font-size="15" text-anchor="start" font-weight="bold" fill="#000" >c</text>
<rect x="41.50" y="245.4" width="127.1" height="97.80" fill="#fff" stroke="#555" stroke-width="0.8"/>
<line x1="116.26" y1="245.4" x2="116.26" y2="343.2" stroke="#888" stroke-width="0.8" stroke-dasharray="3.3,2.4"/>
<rect x="46.78" y="342.90" width="2.2" height="0.30" fill="#a83a1c"/>
<rect x="54.25" y="342.80" width="2.2" height="0.40" fill="#a83a1c"/>
<rect x="61.73" y="342.80" width="2.2" height="0.40" fill="#a83a1c"/>
<rect x="69.21" y="340.50" width="2.2" height="2.70" fill="#a83a1c"/>
<rect x="76.68" y="342.00" width="2.2" height="1.20" fill="#a83a1c"/>
<rect x="84.16" y="340.80" width="2.2" height="2.40" fill="#a83a1c"/>
<rect x="91.64" y="340.80" width="2.2" height="2.40" fill="#a83a1c"/>
<rect x="99.11" y="342.70" width="2.2" height="0.50" fill="#a83a1c"/>
<rect x="106.59" y="341.50" width="2.2" height="1.70" fill="#a83a1c"/>
<rect x="121.54" y="261.90" width="2.2" height="81.30" fill="#1f4f9f"/>
<rect x="123.74" y="261.60" width="2.2" height="81.60" fill="#828282"/>
<rect x="129.02" y="265.00" width="2.2" height="78.20" fill="#1f4f9f"/>
<rect x="131.22" y="261.60" width="2.2" height="81.60" fill="#828282"/>
<rect x="136.49" y="262.80" width="2.2" height="80.40" fill="#1f4f9f"/>
<rect x="138.69" y="261.60" width="2.2" height="81.60" fill="#828282"/>
<rect x="143.97" y="265.50" width="2.2" height="77.70" fill="#1f4f9f"/>
<rect x="146.17" y="261.60" width="2.2" height="81.60" fill="#828282"/>
<rect x="151.45" y="268.30" width="2.2" height="74.90" fill="#1f4f9f"/>
<rect x="153.65" y="261.60" width="2.2" height="81.60" fill="#828282"/>
<rect x="158.92" y="257.00" width="2.2" height="86.20" fill="#1f4f9f"/>
<rect x="161.12" y="261.60" width="2.2" height="81.60" fill="#828282"/>
<line x1="41.50" y1="343.20" x2="43.10" y2="343.20" stroke="#555" stroke-width="0.7"/>
<line x1="168.60" y1="343.20" x2="167.00" y2="343.20" stroke="#555" stroke-width="0.7"/>
<line x1="41.50" y1="318.75" x2="43.10" y2="318.75" stroke="#555" stroke-width="0.7"/>
<line x1="168.60" y1="318.75" x2="167.00" y2="318.75" stroke="#555" stroke-width="0.7"/>
<line x1="41.50" y1="294.30" x2="43.10" y2="294.30" stroke="#555" stroke-width="0.7"/>
<line x1="168.60" y1="294.30" x2="167.00" y2="294.30" stroke="#555" stroke-width="0.7"/>
<line x1="41.50" y1="269.85" x2="43.10" y2="269.85" stroke="#555" stroke-width="0.7"/>
<line x1="168.60" y1="269.85" x2="167.00" y2="269.85" stroke="#555" stroke-width="0.7"/>
<line x1="41.50" y1="245.40" x2="43.10" y2="245.40" stroke="#555" stroke-width="0.7"/>
<line x1="168.60" y1="245.40" x2="167.00" y2="245.40" stroke="#555" stroke-width="0.7"/>
<rect x="41.50" y="245.4" width="127.1" height="97.80" fill="none" stroke="#555" stroke-width="0.8"/>
<text x="86.40" y="257.10" font-size="9.0" text-anchor="start" font-weight="normal" fill="#111" >2.52%</text>
<rect x="168.60" y="245.4" width="127.1" height="97.80" fill="#fff" stroke="#555" stroke-width="0.8"/>
<line x1="243.36" y1="245.4" x2="243.36" y2="343.2" stroke="#888" stroke-width="0.8" stroke-dasharray="3.3,2.4"/>
<rect x="173.88" y="307.10" width="2.2" height="36.10" fill="#a83a1c"/>
<rect x="176.08" y="305.80" width="2.2" height="37.40" fill="#efb02e"/>
<rect x="181.35" y="302.10" width="2.2" height="41.10" fill="#a83a1c"/>
<rect x="183.55" y="305.80" width="2.2" height="37.40" fill="#efb02e"/>
<rect x="188.83" y="305.00" width="2.2" height="38.20" fill="#a83a1c"/>
<rect x="191.03" y="305.80" width="2.2" height="37.40" fill="#efb02e"/>
<rect x="196.31" y="307.00" width="2.2" height="36.20" fill="#a83a1c"/>
<rect x="198.51" y="305.80" width="2.2" height="37.40" fill="#efb02e"/>
<rect x="203.78" y="342.00" width="2.2" height="1.20" fill="#a83a1c"/>
<rect x="211.26" y="341.20" width="2.2" height="2.00" fill="#a83a1c"/>
<rect x="218.74" y="307.80" width="2.2" height="35.40" fill="#a83a1c"/>
<rect x="220.94" y="305.80" width="2.2" height="37.40" fill="#efb02e"/>
<rect x="226.21" y="342.60" width="2.2" height="0.60" fill="#a83a1c"/>
<rect x="233.69" y="342.20" width="2.2" height="1.00" fill="#a83a1c"/>
<rect x="248.64" y="306.90" width="2.2" height="36.30" fill="#1f4f9f"/>
<rect x="250.84" y="305.70" width="2.2" height="37.50" fill="#828282"/>
<rect x="256.12" y="307.50" width="2.2" height="35.70" fill="#1f4f9f"/>
<rect x="258.32" y="305.70" width="2.2" height="37.50" fill="#828282"/>
<rect x="263.59" y="272.10" width="2.2" height="71.10" fill="#1f4f9f"/>
<rect x="265.79" y="267.80" width="2.2" height="75.40" fill="#828282"/>
<rect x="271.07" y="304.50" width="2.2" height="38.70" fill="#1f4f9f"/>
<rect x="273.27" y="305.90" width="2.2" height="37.30" fill="#828282"/>
<rect x="278.55" y="307.90" width="2.2" height="35.30" fill="#1f4f9f"/>
<rect x="280.75" y="305.70" width="2.2" height="37.50" fill="#828282"/>
<rect x="286.02" y="262.50" width="2.2" height="80.70" fill="#1f4f9f"/>
<rect x="288.22" y="267.80" width="2.2" height="75.40" fill="#828282"/>
<line x1="168.60" y1="343.20" x2="170.20" y2="343.20" stroke="#555" stroke-width="0.7"/>
<line x1="295.70" y1="343.20" x2="294.10" y2="343.20" stroke="#555" stroke-width="0.7"/>
<line x1="168.60" y1="318.75" x2="170.20" y2="318.75" stroke="#555" stroke-width="0.7"/>
<line x1="295.70" y1="318.75" x2="294.10" y2="318.75" stroke="#555" stroke-width="0.7"/>
<line x1="168.60" y1="294.30" x2="170.20" y2="294.30" stroke="#555" stroke-width="0.7"/>
<line x1="295.70" y1="294.30" x2="294.10" y2="294.30" stroke="#555" stroke-width="0.7"/>
<line x1="168.60" y1="269.85" x2="170.20" y2="269.85" stroke="#555" stroke-width="0.7"/>
<line x1="295.70" y1="269.85" x2="294.10" y2="269.85" stroke="#555" stroke-width="0.7"/>
<line x1="168.60" y1="245.40" x2="170.20" y2="245.40" stroke="#555" stroke-width="0.7"/>
<line x1="295.70" y1="245.40" x2="294.10" y2="245.40" stroke="#555" stroke-width="0.7"/>
<rect x="168.60" y="245.4" width="127.1" height="97.80" fill="none" stroke="#555" stroke-width="0.8"/>
<text x="191.30" y="257.10" font-size="9.0" text-anchor="start" font-weight="normal" fill="#111" >39.18%</text>
<rect x="295.70" y="245.4" width="127.1" height="97.80" fill="#fff" stroke="#555" stroke-width="0.8"/>
<line x1="370.46" y1="245.4" x2="370.46" y2="343.2" stroke="#888" stroke-width="0.8" stroke-dasharray="3.3,2.4"/>
<rect x="300.98" y="310.20" width="2.2" height="33.00" fill="#a83a1c"/>
<rect x="303.18" y="308.10" width="2.2" height="35.10" fill="#efb02e"/>
<rect x="308.45" y="305.10" width="2.2" height="38.10" fill="#a83a1c"/>
<rect x="310.65" y="308.10" width="2.2" height="35.10" fill="#efb02e"/>
<rect x="315.93" y="309.20" width="2.2" height="34.00" fill="#a83a1c"/>
<rect x="318.13" y="308.10" width="2.2" height="35.10" fill="#efb02e"/>
<rect x="323.41" y="309.80" width="2.2" height="33.40" fill="#a83a1c"/>
<rect x="325.61" y="308.10" width="2.2" height="35.10" fill="#efb02e"/>
<rect x="330.88" y="305.20" width="2.2" height="38.00" fill="#a83a1c"/>
<rect x="333.08" y="308.10" width="2.2" height="35.10" fill="#efb02e"/>
<rect x="338.36" y="308.00" width="2.2" height="35.20" fill="#a83a1c"/>
<rect x="340.56" y="308.10" width="2.2" height="35.10" fill="#efb02e"/>
<rect x="345.84" y="310.20" width="2.2" height="33.00" fill="#a83a1c"/>
<rect x="348.04" y="308.10" width="2.2" height="35.10" fill="#efb02e"/>
<rect x="353.31" y="309.00" width="2.2" height="34.20" fill="#a83a1c"/>
<rect x="355.51" y="308.10" width="2.2" height="35.10" fill="#efb02e"/>
<rect x="360.79" y="342.00" width="2.2" height="1.20" fill="#a83a1c"/>
<rect x="375.74" y="308.30" width="2.2" height="34.90" fill="#1f4f9f"/>
<rect x="377.94" y="308.30" width="2.2" height="34.90" fill="#828282"/>
<rect x="383.22" y="310.00" width="2.2" height="33.20" fill="#1f4f9f"/>
<rect x="385.42" y="308.30" width="2.2" height="34.90" fill="#828282"/>
<rect x="390.69" y="310.00" width="2.2" height="33.20" fill="#1f4f9f"/>
<rect x="392.89" y="308.30" width="2.2" height="34.90" fill="#828282"/>
<rect x="398.17" y="307.10" width="2.2" height="36.10" fill="#1f4f9f"/>
<rect x="400.37" y="308.30" width="2.2" height="34.90" fill="#828282"/>
<rect x="405.65" y="309.60" width="2.2" height="33.60" fill="#1f4f9f"/>
<rect x="407.85" y="308.30" width="2.2" height="34.90" fill="#828282"/>
<rect x="413.12" y="305.80" width="2.2" height="37.40" fill="#1f4f9f"/>
<rect x="415.32" y="308.30" width="2.2" height="34.90" fill="#828282"/>
<line x1="295.70" y1="343.20" x2="297.30" y2="343.20" stroke="#555" stroke-width="0.7"/>
<line x1="422.80" y1="343.20" x2="421.20" y2="343.20" stroke="#555" stroke-width="0.7"/>
<line x1="295.70" y1="318.75" x2="297.30" y2="318.75" stroke="#555" stroke-width="0.7"/>
<line x1="422.80" y1="318.75" x2="421.20" y2="318.75" stroke="#555" stroke-width="0.7"/>
<line x1="295.70" y1="294.30" x2="297.30" y2="294.30" stroke="#555" stroke-width="0.7"/>
<line x1="422.80" y1="294.30" x2="421.20" y2="294.30" stroke="#555" stroke-width="0.7"/>
<line x1="295.70" y1="269.85" x2="297.30" y2="269.85" stroke="#555" stroke-width="0.7"/>
<line x1="422.80" y1="269.85" x2="421.20" y2="269.85" stroke="#555" stroke-width="0.7"/>
<line x1="295.70" y1="245.40" x2="297.30" y2="245.40" stroke="#555" stroke-width="0.7"/>
<line x1="422.80" y1="245.40" x2="421.20" y2="245.40" stroke="#555" stroke-width="0.7"/>
<rect x="295.70" y="245.4" width="127.1" height="97.80" fill="none" stroke="#555" stroke-width="0.8"/>
<text x="319.40" y="257.10" font-size="9.0" text-anchor="start" font-weight="normal" fill="#111" >57.26%</text>
<rect x="422.80" y="245.4" width="127.1" height="97.80" fill="#fff" stroke="#555" stroke-width="0.8"/>
<line x1="497.56" y1="245.4" x2="497.56" y2="343.2" stroke="#888" stroke-width="0.8" stroke-dasharray="3.3,2.4"/>
<rect x="428.08" y="323.70" width="2.2" height="19.50" fill="#a83a1c"/>
<rect x="430.28" y="326.40" width="2.2" height="16.80" fill="#efb02e"/>
<rect x="435.55" y="323.90" width="2.2" height="19.30" fill="#a83a1c"/>
<rect x="437.75" y="326.40" width="2.2" height="16.80" fill="#efb02e"/>
<rect x="443.03" y="324.90" width="2.2" height="18.30" fill="#a83a1c"/>
<rect x="445.23" y="326.40" width="2.2" height="16.80" fill="#efb02e"/>
<rect x="450.51" y="321.80" width="2.2" height="21.40" fill="#a83a1c"/>
<rect x="452.71" y="326.40" width="2.2" height="16.80" fill="#efb02e"/>
<rect x="457.98" y="342.20" width="2.2" height="1.00" fill="#a83a1c"/>
<rect x="465.46" y="341.80" width="2.2" height="1.40" fill="#a83a1c"/>
<rect x="472.94" y="324.90" width="2.2" height="18.30" fill="#a83a1c"/>
<rect x="475.14" y="326.40" width="2.2" height="16.80" fill="#efb02e"/>
<rect x="480.41" y="342.60" width="2.2" height="0.60" fill="#a83a1c"/>
<rect x="487.89" y="342.40" width="2.2" height="0.80" fill="#a83a1c"/>
<rect x="502.84" y="260.30" width="2.2" height="82.90" fill="#1f4f9f"/>
<rect x="505.04" y="259.10" width="2.2" height="84.10" fill="#828282"/>
<rect x="510.32" y="265.30" width="2.2" height="77.90" fill="#1f4f9f"/>
<rect x="512.52" y="259.10" width="2.2" height="84.10" fill="#828282"/>
<rect x="517.79" y="311.90" width="2.2" height="31.30" fill="#1f4f9f"/>
<rect x="519.99" y="310.00" width="2.2" height="33.20" fill="#828282"/>
<rect x="525.27" y="259.50" width="2.2" height="83.70" fill="#1f4f9f"/>
<rect x="527.47" y="259.10" width="2.2" height="84.10" fill="#828282"/>
<rect x="532.75" y="265.30" width="2.2" height="77.90" fill="#1f4f9f"/>
<rect x="534.95" y="259.10" width="2.2" height="84.10" fill="#828282"/>
<rect x="540.22" y="308.00" width="2.2" height="35.20" fill="#1f4f9f"/>
<rect x="542.42" y="309.60" width="2.2" height="33.60" fill="#828282"/>
<line x1="422.80" y1="343.20" x2="424.40" y2="343.20" stroke="#555" stroke-width="0.7"/>
<line x1="549.90" y1="343.20" x2="548.30" y2="343.20" stroke="#555" stroke-width="0.7"/>
<line x1="422.80" y1="318.75" x2="424.40" y2="318.75" stroke="#555" stroke-width="0.7"/>
<line x1="549.90" y1="318.75" x2="548.30" y2="318.75" stroke="#555" stroke-width="0.7"/>
<line x1="422.80" y1="294.30" x2="424.40" y2="294.30" stroke="#555" stroke-width="0.7"/>
<line x1="549.90" y1="294.30" x2="548.30" y2="294.30" stroke="#555" stroke-width="0.7"/>
<line x1="422.80" y1="269.85" x2="424.40" y2="269.85" stroke="#555" stroke-width="0.7"/>
<line x1="549.90" y1="269.85" x2="548.30" y2="269.85" stroke="#555" stroke-width="0.7"/>
<line x1="422.80" y1="245.40" x2="424.40" y2="245.40" stroke="#555" stroke-width="0.7"/>
<line x1="549.90" y1="245.40" x2="548.30" y2="245.40" stroke="#555" stroke-width="0.7"/>
<rect x="422.80" y="245.4" width="127.1" height="97.80" fill="none" stroke="#555" stroke-width="0.8"/>
<text x="445.50" y="257.10" font-size="9.0" text-anchor="start" font-weight="normal" fill="#111" >20.43%</text>
<rect x="549.90" y="245.4" width="127.1" height="97.80" fill="#fff" stroke="#555" stroke-width="0.8"/>
<line x1="624.66" y1="245.4" x2="624.66" y2="343.2" stroke="#888" stroke-width="0.8" stroke-dasharray="3.3,2.4"/>
<rect x="555.18" y="325.40" width="2.2" height="17.80" fill="#a83a1c"/>
<rect x="557.38" y="326.40" width="2.2" height="16.80" fill="#efb02e"/>
<rect x="562.65" y="256.10" width="2.2" height="87.10" fill="#a83a1c"/>
<rect x="564.85" y="258.80" width="2.2" height="84.40" fill="#efb02e"/>
<rect x="570.13" y="259.90" width="2.2" height="83.30" fill="#a83a1c"/>
<rect x="572.33" y="258.80" width="2.2" height="84.40" fill="#efb02e"/>
<rect x="577.61" y="264.00" width="2.2" height="79.20" fill="#a83a1c"/>
<rect x="579.81" y="258.80" width="2.2" height="84.40" fill="#efb02e"/>
<rect x="585.08" y="341.80" width="2.2" height="1.40" fill="#a83a1c"/>
<rect x="592.56" y="342.80" width="2.2" height="0.40" fill="#a83a1c"/>
<rect x="600.04" y="266.90" width="2.2" height="76.30" fill="#a83a1c"/>
<rect x="602.24" y="258.80" width="2.2" height="84.40" fill="#efb02e"/>
<rect x="607.51" y="341.90" width="2.2" height="1.30" fill="#a83a1c"/>
<rect x="614.99" y="342.70" width="2.2" height="0.50" fill="#a83a1c"/>
<rect x="629.94" y="321.90" width="2.2" height="21.30" fill="#1f4f9f"/>
<rect x="632.14" y="326.00" width="2.2" height="17.20" fill="#828282"/>
<rect x="637.42" y="323.80" width="2.2" height="19.40" fill="#1f4f9f"/>
<rect x="639.62" y="326.00" width="2.2" height="17.20" fill="#828282"/>
<rect x="644.89" y="311.80" width="2.2" height="31.40" fill="#1f4f9f"/>
<rect x="647.09" y="309.40" width="2.2" height="33.80" fill="#828282"/>
<rect x="652.37" y="324.60" width="2.2" height="18.60" fill="#1f4f9f"/>
<rect x="654.57" y="326.00" width="2.2" height="17.20" fill="#828282"/>
<rect x="659.85" y="324.90" width="2.2" height="18.30" fill="#1f4f9f"/>
<rect x="662.05" y="326.00" width="2.2" height="17.20" fill="#828282"/>
<rect x="667.32" y="307.60" width="2.2" height="35.60" fill="#1f4f9f"/>
<rect x="669.52" y="309.40" width="2.2" height="33.80" fill="#828282"/>
<line x1="549.90" y1="343.20" x2="551.50" y2="343.20" stroke="#555" stroke-width="0.7"/>
<line x1="677.00" y1="343.20" x2="675.40" y2="343.20" stroke="#555" stroke-width="0.7"/>
<line x1="549.90" y1="318.75" x2="551.50" y2="318.75" stroke="#555" stroke-width="0.7"/>
<line x1="677.00" y1="318.75" x2="675.40" y2="318.75" stroke="#555" stroke-width="0.7"/>
<line x1="549.90" y1="294.30" x2="551.50" y2="294.30" stroke="#555" stroke-width="0.7"/>
<line x1="677.00" y1="294.30" x2="675.40" y2="294.30" stroke="#555" stroke-width="0.7"/>
<line x1="549.90" y1="269.85" x2="551.50" y2="269.85" stroke="#555" stroke-width="0.7"/>
<line x1="677.00" y1="269.85" x2="675.40" y2="269.85" stroke="#555" stroke-width="0.7"/>
<line x1="549.90" y1="245.40" x2="551.50" y2="245.40" stroke="#555" stroke-width="0.7"/>
<line x1="677.00" y1="245.40" x2="675.40" y2="245.40" stroke="#555" stroke-width="0.7"/>
<rect x="549.90" y="245.4" width="127.1" height="97.80" fill="none" stroke="#555" stroke-width="0.8"/>
<text x="577.20" y="257.10" font-size="9.0" text-anchor="start" font-weight="normal" fill="#111" >70.58%</text>
<line x1="63.50" y1="231.00" x2="63.50" y2="240.20" stroke="#222" stroke-width="0.95"/>
<text x="64.50" y="238.70" font-size="10.35" text-anchor="start" font-weight="normal" fill="#111" >010100</text>
<polyline points="99.90,230.90 102.70,235.50 99.90,240.10" fill="none" stroke="#222" stroke-width="0.8"/>
<text x="103.10" y="238.70" font-size="10.35" text-anchor="start" font-weight="normal" fill="#111" >,</text>
<line x1="109.50" y1="231.00" x2="109.50" y2="240.20" stroke="#222" stroke-width="0.95"/>
<text x="110.60" y="238.70" font-size="10.35" text-anchor="start" font-weight="normal" fill="#111" >010100</text>
<polyline points="145.90,230.90 148.70,235.50 145.90,240.10" fill="none" stroke="#222" stroke-width="0.8"/>
<line x1="192.50" y1="231.00" x2="192.50" y2="240.20" stroke="#222" stroke-width="0.95"/>
<text x="193.50" y="238.70" font-size="10.35" text-anchor="start" font-weight="normal" fill="#111" >010100</text>
<polyline points="228.90,230.90 231.70,235.50 228.90,240.10" fill="none" stroke="#222" stroke-width="0.8"/>
<text x="232.10" y="238.70" font-size="10.35" text-anchor="start" font-weight="normal" fill="#111" >,</text>
<line x1="238.50" y1="231.00" x2="238.50" y2="240.20" stroke="#222" stroke-width="0.95"/>
<text x="239.60" y="238.70" font-size="10.35" text-anchor="start" font-weight="normal" fill="#111" >110100</text>
<polyline points="274.90,230.90 277.70,235.50 274.90,240.10" fill="none" stroke="#222" stroke-width="0.8"/>
<line x1="318.50" y1="231.00" x2="318.50" y2="240.20" stroke="#222" stroke-width="0.95"/>
<text x="319.50" y="238.70" font-size="10.35" text-anchor="start" font-weight="normal" fill="#111" >010100</text>
<polyline points="354.90,230.90 357.70,235.50 354.90,240.10" fill="none" stroke="#222" stroke-width="0.8"/>
<text x="358.10" y="238.70" font-size="10.35" text-anchor="start" font-weight="normal" fill="#111" >,</text>
<line x1="364.50" y1="231.00" x2="364.50" y2="240.20" stroke="#222" stroke-width="0.95"/>
<text x="365.60" y="238.70" font-size="10.35" text-anchor="start" font-weight="normal" fill="#111" >000000</text>
<polyline points="400.90,230.90 403.70,235.50 400.90,240.10" fill="none" stroke="#222" stroke-width="0.8"/>
<line x1="450.50" y1="231.00" x2="450.50" y2="240.20" stroke="#222" stroke-width="0.95"/>
<text x="451.50" y="238.70" font-size="10.35" text-anchor="start" font-weight="normal" fill="#111" >010100</text>
<polyline points="486.90,230.90 489.70,235.50 486.90,240.10" fill="none" stroke="#222" stroke-width="0.8"/>
<text x="490.10" y="238.70" font-size="10.35" text-anchor="start" font-weight="normal" fill="#111" >,</text>
<line x1="496.50" y1="231.00" x2="496.50" y2="241.30" stroke="#222" stroke-width="0.95"/>
<text x="497.80" y="239.30" font-size="10.35" text-anchor="start" font-weight="normal" fill="#555" font-style="italic">ψ</text>
<text x="504.50" y="241.80" font-size="6.8" text-anchor="start" font-weight="bold" fill="#111" >ch1</text>
<polyline points="517.10,231.10 520.00,236.30 517.10,241.50" fill="none" stroke="#222" stroke-width="0.8"/>
<line x1="576.40" y1="231.00" x2="576.40" y2="240.20" stroke="#222" stroke-width="0.95"/>
<text x="577.40" y="238.70" font-size="10.35" text-anchor="start" font-weight="normal" fill="#111" >010100</text>
<polyline points="612.80,230.90 615.60,235.50 612.80,240.10" fill="none" stroke="#222" stroke-width="0.8"/>
<text x="616.00" y="238.70" font-size="10.35" text-anchor="start" font-weight="normal" fill="#111" >,</text>
<line x1="622.40" y1="231.00" x2="622.40" y2="241.30" stroke="#222" stroke-width="0.95"/>
<text x="623.70" y="239.30" font-size="10.35" text-anchor="start" font-weight="normal" fill="#555" font-style="italic">ψ</text>
<text x="630.40" y="241.80" font-size="6.8" text-anchor="start" font-weight="bold" fill="#111" >ch2</text>
<polyline points="643.00,231.10 645.90,236.30 643.00,241.50" fill="none" stroke="#222" stroke-width="0.8"/>
<text x="37.60" y="346.80" font-size="10.35" text-anchor="end" font-weight="normal" fill="#111" >0</text>
<text x="37.60" y="322.35" font-size="10.35" text-anchor="end" font-weight="normal" fill="#111" >0.05</text>
<text x="37.60" y="297.90" font-size="10.35" text-anchor="end" font-weight="normal" fill="#111" >0.1</text>
<text x="37.60" y="273.45" font-size="10.35" text-anchor="end" font-weight="normal" fill="#111" >0.15</text>
<text x="37.60" y="249.00" font-size="10.35" text-anchor="end" font-weight="normal" fill="#111" >0.2</text>
<text transform="translate(8.1,292.8) rotate(-90)" x="0" y="0" font-size="10.35" text-anchor="middle" fill="#111">Probability</text>
<rect x="45.3" y="248.4" width="35.9" height="48.1" fill="#fff" stroke="#555" stroke-width="0.7"/>
<rect x="47.6" y="250.80" width="11.0" height="6.2" fill="#a83a1c"/>
<text x="61.90" y="256.70" font-size="7.8" text-anchor="start" font-weight="normal" fill="#111" >Exp</text>
<rect x="47.6" y="263.00" width="11.0" height="6.2" fill="#efb02e"/>
<text x="61.90" y="268.90" font-size="7.8" text-anchor="start" font-weight="normal" fill="#111" >The</text>
<rect x="47.6" y="275.20" width="11.0" height="6.2" fill="#1f4f9f"/>
<text x="61.90" y="281.10" font-size="7.8" text-anchor="start" font-weight="normal" fill="#111" >Exp</text>
<rect x="47.6" y="287.40" width="11.0" height="6.2" fill="#828282"/>
<text x="61.90" y="293.30" font-size="7.8" text-anchor="start" font-weight="normal" fill="#111" >The</text>
<text x="107.40" y="358.80" font-size="10.35" text-anchor="start" font-weight="normal" fill="#000" >Reject (red): {1,4},{1,5},{1,6},{2,4},{2,5},{2,6},{3,4},{3,5},{3,6} ;</text>
<text x="403.80" y="358.80" font-size="10.35" text-anchor="start" font-weight="normal" fill="#000" >Accept (blue): {1,2},{1,3},{2,3},{4,5},{4,6},{5,6}</text>
</svg>
</body></html>
